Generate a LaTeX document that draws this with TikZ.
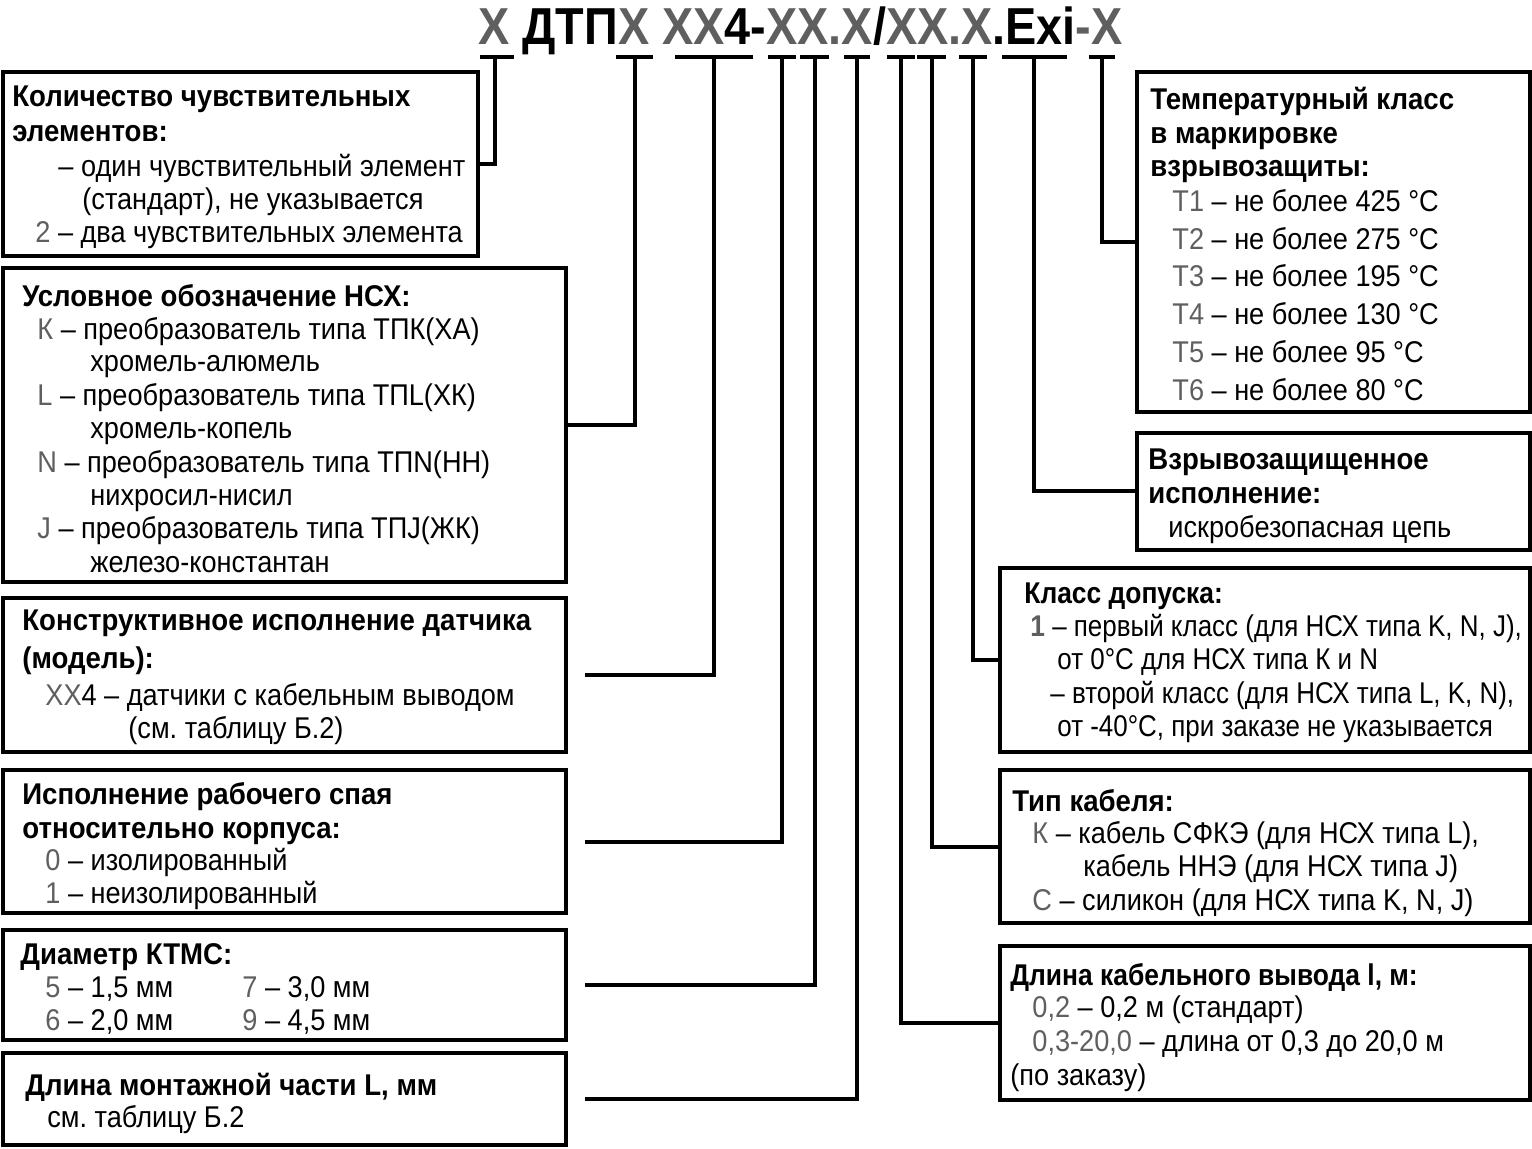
\documentclass[tikz,border=0pt]{standalone}
\usepackage{fontspec}
\setmainfont{Liberation Sans}[FakeStretch=0.905, BoldFeatures={FakeStretch=0.92}]
\newfontfamily\titlefont{Liberation Sans}[FakeStretch=0.90, BoldFeatures={FakeStretch=0.90}]
\newfontfamily\narrowfont{Liberation Sans}[FakeStretch=0.865, BoldFeatures={FakeStretch=0.88}]
\usetikzlibrary{calc,fit}
\definecolor{cg}{RGB}{95,95,95}
\tikzset{
 box/.style={draw, line width=2pt, inner sep=0pt},
 txt/.style={anchor=base west, inner sep=0pt, font=\fontsize{15}{18}\selectfont},
 hdr/.style={anchor=base west, inner sep=0pt, font=\fontsize{15}{18}\selectfont\bfseries},
 ntxt/.style={anchor=base west, inner sep=0pt, font=\narrowfont\fontsize{15}{18}\selectfont},
 nhdr/.style={anchor=base west, inner sep=0pt, font=\narrowfont\fontsize{15}{18}\selectfont\bfseries},
 conn/.style={line width=2pt},
}
\newcommand\cd[1]{\textcolor{cg}{#1}}
\frenchspacing
\begin{document}
\begin{tikzpicture}[x=0.5pt,y=-0.5pt]
\useasboundingbox (0,0) rectangle (1532,1149);
\fill[white] (0,0) rectangle (1532,1149);

% title
\node[anchor=base west, inner sep=0pt, font=\titlefont\fontsize{26}{30}\selectfont\bfseries] (title) at (478,45)
 {\cd{X} ДТП\cd{X} \cd{XX}4-\cd{XX.X}/\cd{XX.X}.Exi\cd{-X}};

% ticks under title
\foreach \a/\b in {480/514,616/653,675/753,768/796,800/829,844/870,887/915,917/946,959/987,1002/1067,1089/1115}
  \draw[conn] (\a,57) -- (\b,57);
\coordinate (t1) at (495,57);
\coordinate (t2) at (635,57);
\coordinate (t3) at (714,57);
\coordinate (t4) at (782,57);
\coordinate (t5) at (815,57);
\coordinate (t6) at (857,57);
\coordinate (t7) at (901,57);
\coordinate (t8) at (932,57);
\coordinate (t9) at (973,57);
\coordinate (t10) at (1034,57);
\coordinate (t11) at (1102,57);

% left boxes
\node[box, fit={(3,72) (478,256)}] (b1) {};
\node[box, fit={(3,268) (566,582)}] (b2) {};
\node[box, fit={(3,598) (566,752)}] (b3) {};
\node[box, fit={(3,770) (566,913)}] (b4) {};
\node[box, fit={(3,930) (566,1040)}] (b5) {};
\node[box, fit={(3,1053) (566,1145)}] (b6) {};
% right boxes
\node[box, fit={(1137,72) (1530,412)}] (r1) {};
\node[box, fit={(1137,433) (1530,550)}] (r2) {};
\node[box, fit={(1000,568) (1530,752)}] (r3) {};
\node[box, fit={(1000,770) (1530,923)}] (r4) {};
\node[box, fit={(1000,946) (1530,1100)}] (r5) {};

% connectors
\draw[conn] (t1) |- (b1.east);
\draw[conn] (t2) |- (b2.east);
\draw[conn] (t3) |- ($(b3.east)+(17,0)$);
\draw[conn] (t4) |- ($(b4.east)+(17,0)$);
\draw[conn] (t5) |- ($(b5.east)+(17,0)$);
\draw[conn] (t6) |- ($(b6.east)+(17,0)$);
\draw[conn] (t7) |- (r5.west);
\draw[conn] (t8) |- (r4.west);
\draw[conn] (t9) |- (r3.west);
\draw[conn] (t10) |- (r2.west);
\draw[conn] (t11) |- (r1.west);

% box 1
\node[hdr] (b1a) at (12,107) {Количество чувствительных};
\node[hdr] (b1b) at (12,142) {элементов:};
\node[txt] (b1c) at (58,177) {– один чувствительный элемент};
\node[txt] (b1d) at (82,210) {(стандарт), не указывается};
\node[txt] (b1e) at (35,243) {\cd{2} – два чувствительных элемента};

% box 2
\node[hdr] (b2a) at (22,307) {Условное обозначение НСХ:};
\node[txt] (b2b) at (37,340) {\cd{К} – преобразователь типа ТПК(ХА)};
\node[txt] (b2c) at (90,372) {хромель-алюмель};
\node[txt] (b2d) at (37,406) {\cd{L} – преобразователь типа ТПL(ХК)};
\node[txt] (b2e) at (90,439) {хромель-копель};
\node[txt] (b2f) at (37,473) {\cd{N} – преобразователь типа ТПN(НН)};
\node[txt] (b2g) at (90,506) {нихросил-нисил};
\node[txt] (b2h) at (37,539) {\cd{J} – преобразователь типа ТПJ(ЖК)};
\node[txt] (b2i) at (90,573) {железо-константан};

% box 3
\node[hdr] (b3a) at (22,631) {Конструктивное исполнение датчика};
\node[hdr] (b3b) at (22,669) {(модель):};
\node[txt] (b3c) at (45,705) {\cd{XX}4 – датчики с кабельным выводом};
\node[txt] (b3d) at (128,739) {(см. таблицу Б.2)};

% box 4
\node[hdr] (b4a) at (22,805) {Исполнение рабочего спая};
\node[hdr] (b4b) at (22,838) {относительно корпуса:};
\node[txt] (b4c) at (45,870) {\cd{0} – изолированный};
\node[txt] (b4d) at (45,903) {\cd{1} – неизолированный};

% box 5
\node[hdr] (b5a) at (20,964) {Диаметр КТМС:};
\node[txt] (b5b) at (45,997) {\cd{5} – 1,5 мм};
\node[txt] (b5c) at (242,997) {\cd{7} – 3,0 мм};
\node[txt] (b5d) at (45,1030) {\cd{6} – 2,0 мм};
\node[txt] (b5e) at (242,1030) {\cd{9} – 4,5 мм};

% box 6
\node[hdr] (b6a) at (25,1095) {Длина монтажной части L, мм};
\node[txt] (b6b) at (47,1127) {см. таблицу Б.2};

% r1
\node[hdr] (r1a) at (1150,110) {Температурный класс};
\node[hdr] (r1b) at (1150,144) {в маркировке};
\node[hdr] (r1c) at (1150,177) {взрывозащиты:};
\node[txt] (r1d) at (1172,212) {\cd{Т1} – не более 425 °C};
\node[txt] (r1e) at (1172,250) {\cd{Т2} – не более 275 °C};
\node[txt] (r1f) at (1172,287) {\cd{Т3} – не более 195 °C};
\node[txt] (r1g) at (1172,325) {\cd{Т4} – не более 130 °C};
\node[txt] (r1h) at (1172,363) {\cd{Т5} – не более 95 °C};
\node[txt] (r1i) at (1172,401) {\cd{Т6} – не более 80 °C};

% r2
\node[hdr] (r2a) at (1148,470) {Взрывозащищенное};
\node[hdr] (r2b) at (1148,504) {исполнение:};
\node[txt] (r2c) at (1168,538) {искробезопасная цепь};

% r3
\node[nhdr] (r3a) at (1024,604) {Класс допуска:};
\node[ntxt] (r3b) at (1030,637) {\textbf{\cd{1}} – первый класс (для НСХ типа K, N, J),};
\node[ntxt] (r3c) at (1057,670) {от 0°C для НСХ типа К и N};
\node[ntxt] (r3d) at (1050,704) {– второй класс (для НСХ типа L, K, N),};
\node[ntxt] (r3e) at (1057,737) {от -40°С, при заказе не указывается};

% r4
\node[hdr] (r4a) at (1012,811) {Тип кабеля:};
\node[txt] (r4b) at (1032,843) {\cd{К} – кабель СФКЭ (для НСХ типа L),};
\node[txt] (r4c) at (1083,876) {кабель ННЭ (для НСХ типа J)};
\node[txt] (r4d) at (1032,910) {\cd{С} – силикон (для НСХ типа K, N, J)};

% r5
\node[nhdr] (r5a) at (1010,985) {Длина кабельного вывода l, м:};
\node[txt] (r5b) at (1032,1017) {\cd{0,2} – 0,2 м (стандарт)};
\node[txt] (r5c) at (1032,1051) {\cd{0,3-20,0} – длина от 0,3 до 20,0 м};
\node[txt] (r5d) at (1010,1085) {(по заказу)};
\end{tikzpicture}
\end{document}
